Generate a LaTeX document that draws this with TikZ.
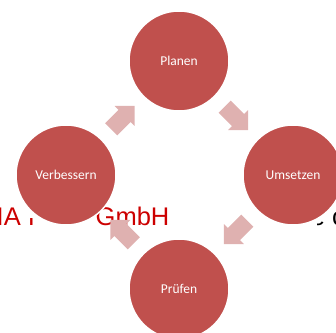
\documentclass[tikz,border=0pt]{standalone}
\usepackage{fontspec}
\newfontfamily\calib{Carlito}
\newfontfamily\arialf{Liberation Sans}
\usetikzlibrary{calc}
\definecolor{circred}{RGB}{192,80,77}
\definecolor{arrpink}{RGB}{223,177,176}
\definecolor{bgred}{RGB}{204,0,0}
\tikzset{
  cyc/.style={circle, fill=circred, draw=white, line width=1.5pt, minimum size=100pt, inner sep=0pt, text=white, font=\calib\fontsize{13.5}{15}\selectfont},
  bgtext/.style={inner sep=0pt, anchor=base west, font=\arialf\fontsize{25.5}{28}\selectfont},
  blockarrow/.style={fill=arrpink}
}
\begin{document}
\begin{tikzpicture}[x=1pt,y=1pt]
\useasboundingbox (0,0) rectangle (336,332);
% background text partially hidden
\node[bgtext, text=bgred] (t1) at (-3.5,107) {IA};
\begin{scope}
  \clip (25,100) rectangle (40,114);
  \node[bgtext, text=bgred] (t1b) at (27.7,107) {I};
\end{scope}
\node[bgtext, text=bgred] (t2) at (95.5,107) {GmbH};
\begin{scope}
  \clip (317,95) rectangle (330,111);
  \node[bgtext, text=black] (t3) at (310.7,107) {e};
\end{scope}
\node[bgtext, text=black] (t4) at (332,107) {c};
% circles
\node[cyc] (plan) at (179,271) {Planen};
\node[cyc] (ums) at (293,157) {Umsetzen};
\node[cyc] (pru) at (179,43) {Prüfen};
\node[cyc] (ver) at (66,157) {Verbessern};
% arrow positions
\coordinate (a1) at ($(plan)!0.5!(ums)$);
\coordinate (a2) at ($(ums)!0.5!(pru)$);
\coordinate (a3) at ($(pru)!0.5!(ver)$);
\coordinate (a4) at ($(ver)!0.5!(plan)$);
\foreach \c/\ang in {a1/-45, a2/-135, a3/135, a4/45}{
  \begin{scope}[shift={(\c)}, rotate=\ang]
    \fill[blockarrow] (-16,-8.5) -- (3,-8.5) -- (3,-14) -- (17,0) -- (3,14) -- (3,8.5) -- (-16,8.5) -- cycle;
  \end{scope}
}
\end{tikzpicture}
\end{document}
